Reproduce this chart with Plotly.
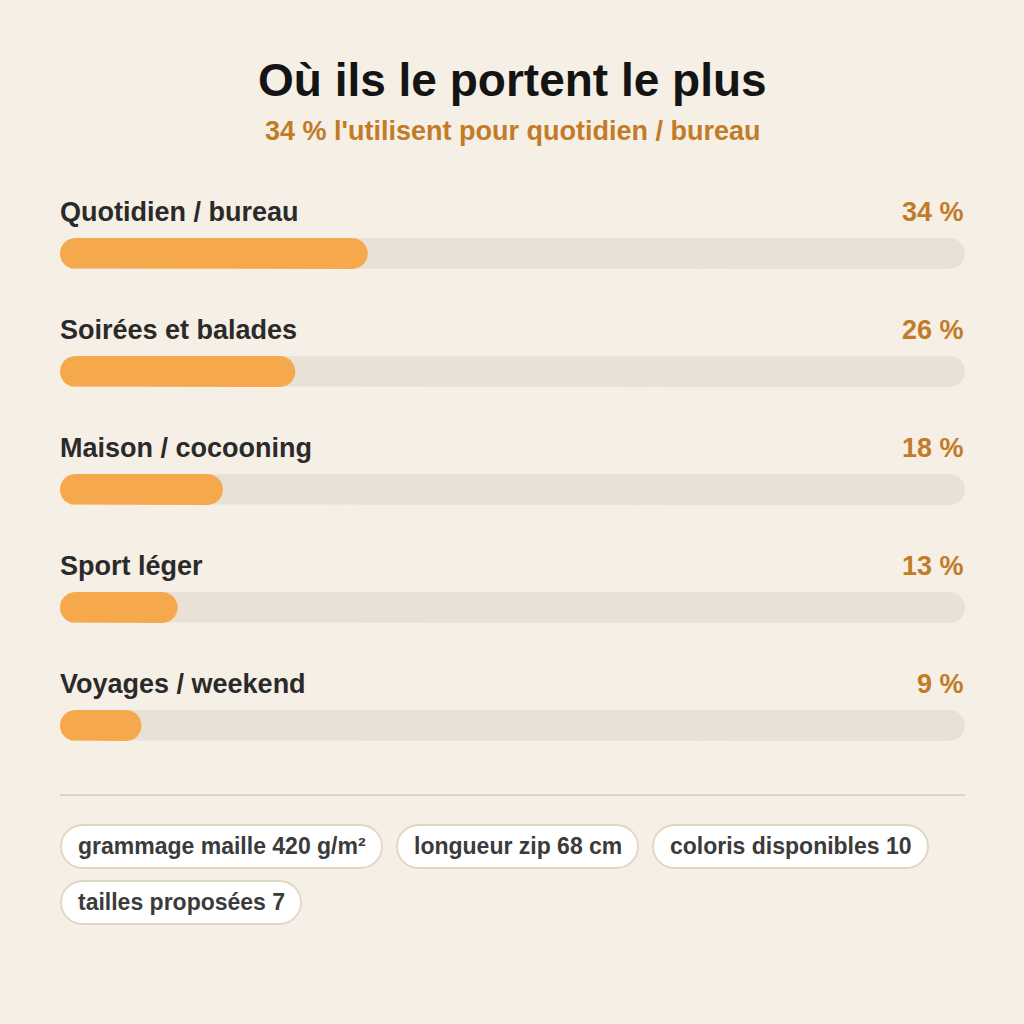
import math
import plotly.graph_objects as go

# ---------------- data ----------------
title = "Où ils le portent le plus"
subtitle = "34 % l'utilisent pour quotidien / bureau"
categories = ["Quotidien / bureau", "Soirées et balades", "Maison / cocooning", "Sport léger", "Voyages / weekend"]
values = [34, 26, 18, 13, 9]
chips = ["grammage maille 420 g/m²", "longueur zip 68 cm", "coloris disponibles 10", "tailles proposées 7"]

# ---------------- style / layout constants ----------------
BG = "#f5efe5"
TRACK = "#e9e1d5"
ORANGE = "#f5a94c"
ACCENT = "#c27b27"
LABEL = "#2a2a2a"
FONT = "Liberation Sans, Arial, sans-serif"

W = H = 1024
X0, X1 = 60, 965                 # pixel extent of the 0..100 scale
PPU = (X1 - X0) / 100.0          # pixels per unit
BAR_H = 31
BAR_Y0 = 253.5                   # centre of first bar (pixels)
ROW_STEP = 118
LABEL_DY = -42                   # label centre relative to bar centre


def px(x):
    """pixel x -> data x"""
    return (x - X0) / PPU


bar_y = [BAR_Y0 + i * ROW_STEP for i in range(len(values))]


def capsule(v_end, yc, n=24):
    """rounded bar outline from 0 to v_end (data units) centred at yc"""
    r = BAR_H / 2
    ru = r / PPU
    xs, ys = [], []
    for i in range(n + 1):
        a = -math.pi / 2 + math.pi * i / n
        xs.append(v_end - ru + ru * math.cos(a))
        ys.append(yc + r * math.sin(a))
    for i in range(n + 1):
        a = math.pi / 2 + math.pi * i / n
        xs.append(ru + ru * math.cos(a))
        ys.append(yc + r * math.sin(a))
    xs.append(xs[0])
    ys.append(ys[0])
    return xs, ys


fig = go.Figure()

for v, yc in zip(values, bar_y):
    tx, ty = capsule(100, yc)
    fig.add_trace(go.Scatter(x=tx, y=ty, mode="lines", fill="toself", fillcolor=TRACK,
                             line=dict(width=0, color=TRACK), hoverinfo="skip", showlegend=False))
    bx, by = capsule(v, yc)
    fig.add_trace(go.Scatter(x=bx, y=by, mode="lines", fill="toself", fillcolor=ORANGE,
                             line=dict(width=0, color=ORANGE), hoverinfo="skip", showlegend=False))

annotations = []
for cat, v, y in zip(categories, values, bar_y):
    annotations.append(dict(x=0, y=y + LABEL_DY, xref="x", yref="y", text=f"<b>{cat}</b>",
                            xanchor="left", yanchor="middle", showarrow=False, xshift=-2,
                            font=dict(family=FONT, size=27, color=LABEL)))
    annotations.append(dict(x=100, y=y + LABEL_DY, xref="x", yref="y", text=f"<b>{v} %</b>",
                            xanchor="right", yanchor="middle", showarrow=False, xshift=1,
                            font=dict(family=FONT, size=27, color=ACCENT)))

# title / subtitle
annotations.append(dict(x=px(512), y=80, xref="x", yref="y", text=f"<b>{title}</b>",
                        xanchor="center", yanchor="middle", showarrow=False,
                        font=dict(family=FONT, size=46, color="#141414")))
annotations.append(dict(x=px(512), y=131, xref="x", yref="y", text=f"<b>{subtitle}</b>",
                        xanchor="center", yanchor="middle", showarrow=False,
                        font=dict(family=FONT, size=27, color=ACCENT)))

shapes = []
# divider
shapes.append(dict(type="line", xref="x", yref="y", x0=0, x1=100, y0=795, y1=795,
                   line=dict(color="#ddd4c7", width=2), layer="below"))

# chips (pixel boxes)
chip_boxes = [(61, 382, 825, 868), (397, 638, 825, 868), (653, 928, 825, 868), (61, 301, 881, 924)]


def pill(x0, x1, y0, y1):
    r = (y1 - y0) / 2
    k = 0.5523 * r
    P = lambda x, y: f"{px(x)},{y}"
    return (f"M {P(x0 + r, y0)} L {P(x1 - r, y0)} "
            f"C {P(x1 - r + k, y0)} {P(x1, y0 + r - k)} {P(x1, y0 + r)} "
            f"C {P(x1, y0 + r + k)} {P(x1 - r + k, y1)} {P(x1 - r, y1)} "
            f"L {P(x0 + r, y1)} "
            f"C {P(x0 + r - k, y1)} {P(x0, y0 + r + k)} {P(x0, y0 + r)} "
            f"C {P(x0, y0 + r - k)} {P(x0 + r - k, y0)} {P(x0 + r, y0)} Z")


for txt, (cx0, cx1, cy0, cy1) in zip(chips, chip_boxes):
    shapes.append(dict(type="path", xref="x", yref="y", path=pill(cx0, cx1, cy0, cy1),
                       fillcolor="#ffffff", line=dict(color="#e0d6c6", width=1.8), layer="below"))
    annotations.append(dict(x=px((cx0 + cx1) / 2), y=(cy0 + cy1) / 2 - 1, xref="x", yref="y",
                            text=f"<b>{txt}</b>", xanchor="center", yanchor="middle",
                            showarrow=False, font=dict(family=FONT, size=23, color="#3b3b3b")))

fig.update_layout(
    width=W, height=H, margin=dict(l=0, r=0, t=0, b=0),
    paper_bgcolor=BG, plot_bgcolor=BG,
    showlegend=False, annotations=annotations, shapes=shapes,
    xaxis=dict(domain=[0, 1], range=[px(0), px(W)], visible=False, fixedrange=True),
    yaxis=dict(domain=[0, 1], range=[H, 0], visible=False, fixedrange=True),
)

fig.write_html("out.html", config={"displayModeBar": False},
               post_script="document.body.style.margin='0';document.body.style.overflow='hidden';")
